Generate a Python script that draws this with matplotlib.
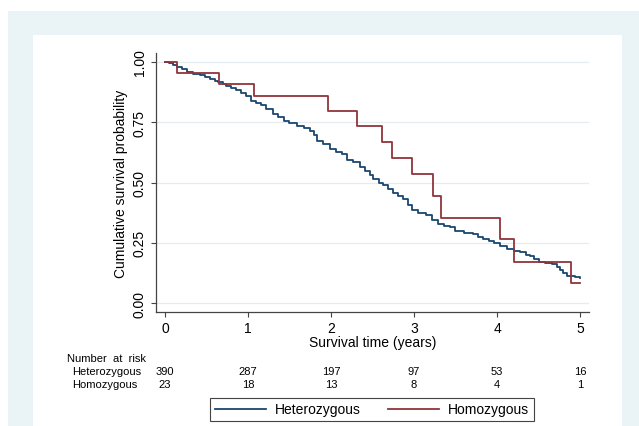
import matplotlib
matplotlib.use("Agg")
import matplotlib.pyplot as plt
from matplotlib.patches import Rectangle
from matplotlib import transforms

plt.rcParams['font.family'] = ['Liberation Sans', 'DejaVu Sans']

# Kaplan-Meier curves
het_t = [0, 0.05, 0.10, 0.14, 0.20, 0.26, 0.34, 0.42, 0.48, 0.54, 0.60, 0.64, 0.70,
         0.74, 0.80, 0.86, 0.92, 0.98, 1.04, 1.10, 1.16, 1.22, 1.30, 1.36, 1.43, 1.50,
         1.59, 1.67, 1.75, 1.80, 1.83, 1.90, 1.99, 2.06, 2.13, 2.19, 2.27, 2.35, 2.41,
         2.47, 2.51, 2.58, 2.63, 2.69, 2.75, 2.81, 2.87, 2.93, 2.97, 3.05, 3.15, 3.22,
         3.29, 3.36, 3.43, 3.49, 3.60, 3.71, 3.77, 3.83, 3.90, 3.96, 4.04, 4.12, 4.20,
         4.28, 4.35, 4.40, 4.45, 4.50, 4.58, 4.66, 4.72, 4.76, 4.80, 4.84, 4.94, 5.00]
het_s = [1.0, 0.995, 0.987, 0.979, 0.970, 0.958, 0.951, 0.944, 0.937, 0.930, 0.922,
         0.917, 0.907, 0.900, 0.891, 0.882, 0.870, 0.857, 0.840, 0.829, 0.820, 0.806,
         0.785, 0.772, 0.757, 0.748, 0.736, 0.726, 0.715, 0.695, 0.673, 0.660, 0.639,
         0.628, 0.618, 0.592, 0.585, 0.565, 0.548, 0.530, 0.514, 0.500, 0.490, 0.475,
         0.458, 0.443, 0.430, 0.405, 0.385, 0.375, 0.366, 0.345, 0.328, 0.320, 0.315,
         0.298, 0.292, 0.285, 0.275, 0.265, 0.256, 0.249, 0.236, 0.223, 0.218, 0.212,
         0.200, 0.194, 0.182, 0.170, 0.166, 0.163, 0.150, 0.139, 0.126, 0.112, 0.110,
         0.104]

hom_t = [0, 0.145, 0.65, 1.07, 1.96, 2.31, 2.61, 2.74, 2.97, 3.23, 3.32, 4.04, 4.20, 4.89, 5.0]
hom_s = [1.0, 0.956, 0.909, 0.860, 0.796, 0.736, 0.667, 0.600, 0.535, 0.442, 0.352,
         0.264, 0.172, 0.083, 0.083]

risk_times = [0, 1, 2, 3, 4, 5]
risk_het = [390, 287, 197, 97, 53, 16]
risk_hom = [23, 18, 13, 8, 4, 1]

blue = '#1a476f'
red = '#90353b'
bg = '#eaf3f5'
grid_col = '#e4ecef'
axis_col = '#444444'

fig = plt.figure(figsize=(6.39, 4.27), dpi=100)
W, H = 639, 427

# outer light blue and inner white panels
fig.patches.append(Rectangle((8 / W, 0), 1 - 8 / W, 1 - 12 / H, transform=fig.transFigure,
                             facecolor=bg, edgecolor='none', zorder=-2))
fig.patches.append(Rectangle((33 / W, 0), (622 - 33) / W, 1 - 36 / H, transform=fig.transFigure,
                             facecolor='white', edgecolor='none', zorder=-1))

ax = fig.add_axes([156 / W, 1 - 313 / H, 433 / W, 259 / H])
ax.set_facecolor('none')

ax.plot(het_t, het_s, drawstyle='steps-post', color=blue, lw=1.3, label='Heterozygous')
ax.plot(hom_t, hom_s, drawstyle='steps-post', color=red, lw=1.3, label='Homozygous')

ax.set_xlim(-0.108, 5.108)
ax.set_ylim(-0.037, 1.037)
ax.set_xticks(risk_times)
ax.set_yticks([0, 0.25, 0.5, 0.75, 1.0])
ax.set_yticklabels(['0.00', '0.25', '0.50', '0.75', '1.00'])
for lab in ax.get_yticklabels():
    lab.set_rotation(90)
    lab.set_va('center')
ax.tick_params(direction='out', length=3.6, width=0.8, color=axis_col, labelsize=10, pad=3)
ax.yaxis.grid(True, color=grid_col, lw=0.9)
ax.set_axisbelow(True)

for s in ['top', 'right']:
    ax.spines[s].set_visible(False)
for s in ['left', 'bottom']:
    ax.spines[s].set_color(axis_col)
    ax.spines[s].set_linewidth(0.9)

ax.set_ylabel('Cumulative survival probability', fontsize=10)
ax.yaxis.set_label_coords(-0.065, 0.5)
ax.set_xlabel('Survival time (years)', fontsize=10)
ax.xaxis.set_label_coords(0.5, -0.089)

# number at risk table
tr = transforms.blended_transform_factory(ax.transData, fig.transFigure)
fig.text(67 / W, 1 - 359 / H, 'Number  at  risk', fontsize=8, va='center', ha='left')
fig.text(72 / W, 1 - 372 / H, 'Heterozygous', fontsize=8, va='center', ha='left')
fig.text(72 / W, 1 - 385 / H, 'Homozygous', fontsize=8, va='center', ha='left')
for t, a, b in zip(risk_times, risk_het, risk_hom):
    ax.text(t, 1 - 372 / H, str(a), transform=tr, fontsize=8, ha='center', va='center')
    ax.text(t, 1 - 385 / H, str(b), transform=tr, fontsize=8, ha='center', va='center')

leg = ax.legend(loc='center', bbox_to_anchor=(372 / W, 1 - 410.5 / H),
                bbox_transform=fig.transFigure, ncol=2, fontsize=10, frameon=True,
                fancybox=False, edgecolor=axis_col, framealpha=1, handlelength=3.7,
                handletextpad=0.65, columnspacing=1.9, borderpad=0.35)
leg.get_frame().set_linewidth(0.8)

fig.savefig('out.png', dpi=100)
